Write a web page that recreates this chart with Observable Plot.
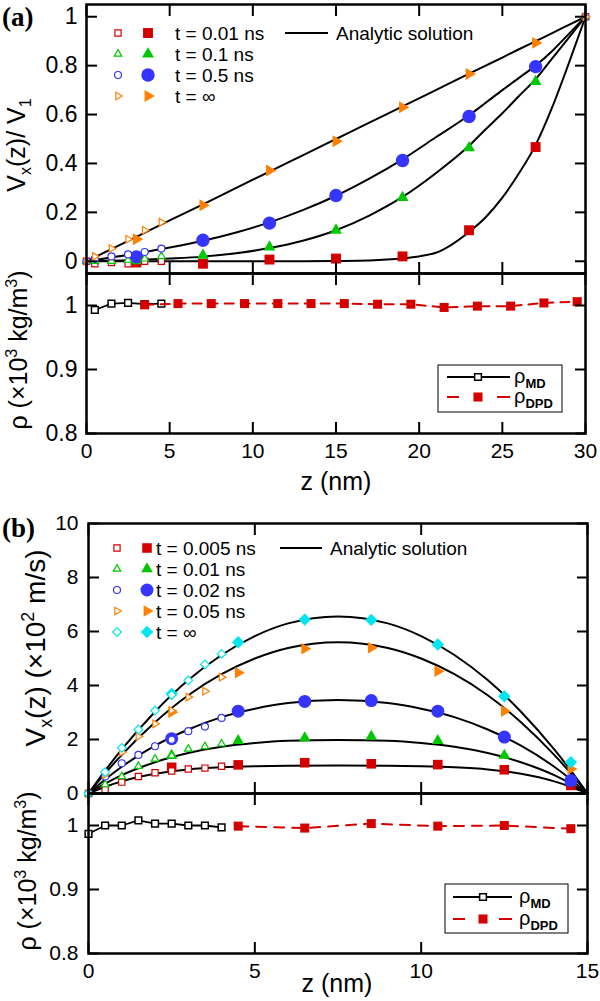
<!DOCTYPE html>
<html><head><meta charset="utf-8">
<script src="https://cdn.jsdelivr.net/npm/d3@7"></script>
<script src="https://cdn.jsdelivr.net/npm/@observablehq/plot@0.6"></script>
<style>
body{margin:0;background:#fff;}
#wrap{position:relative;width:600px;height:1001px;overflow:hidden;font-family:"Liberation Sans",Arial,sans-serif;}
#wrap > svg{position:absolute;left:0;}
</style></head><body><div id="wrap"></div>
<script>
// ===== Panel (a): velocity =====
const legendA = ["t = 0.01 ns", "t = 0.1 ns", "t = 0.5 ns", "t = \u221E"];
const zA_MD = [0, 0.5, 1.5, 2.5, 3.5, 4.5, 30];
const vA_MD_t001 = [0, -0.01, -0.005, -0.01, 0.0, 0.0, 1];
const vA_MD_t01  = [0, 0.0, 0.0, 0.005, 0.01, 0.02, 1];
const vA_MD_t05  = [0, 0.01, 0.02, 0.028, 0.038, 0.052, 1];
const vA_MD_tinf = [0, 0.02, 0.052, 0.09, 0.127, 0.16, 1];

const zA_DPD = [3, 7, 11, 15, 19, 23, 27];
const vA_DPD_t001 = [-0.005, -0.01, 0.007, 0.011, 0.02, 0.127, 0.467];
const vA_DPD_t01  = [0.002, 0.024, 0.058, 0.127, 0.26, 0.464, 0.735];
const vA_DPD_t05  = [0.018, 0.086, 0.156, 0.269, 0.412, 0.592, 0.796];
const vA_DPD_tinf = [0.09, 0.229, 0.371, 0.491, 0.63, 0.766, 0.893];

const zA_fit = [0, 3, 5, 7, 9, 11, 13, 15, 17, 19, 21, 23, 24, 25, 26, 27, 28, 29, 30];
const vA_fit_t001 = [0, 0, 0, 0, 0, 0, 0, 0.001, 0.003, 0.012, 0.035, 0.12, 0.18, 0.26, 0.36, 0.475, 0.63, 0.81, 1];
const vA_fit_t01  = [0, 0.005, 0.011, 0.019, 0.033, 0.054, 0.084, 0.127, 0.187, 0.263, 0.36, 0.472, 0.54, 0.605, 0.676, 0.745, 0.83, 0.915, 1];
const vA_fit_t05  = [0, 0.032, 0.056, 0.084, 0.118, 0.159, 0.209, 0.268, 0.338, 0.417, 0.507, 0.597, 0.648, 0.70, 0.75, 0.80, 0.86, 0.93, 1];
const vA_fit_tinf = [0, 0.1, 0.167, 0.233, 0.3, 0.367, 0.433, 0.5, 0.567, 0.633, 0.7, 0.767, 0.8, 0.833, 0.867, 0.9, 0.933, 0.967, 1];

// ===== Panel (a): density =====
const zA_rhoMD = [0.5, 1.5, 2.5, 3.5, 4.5];
const rhoA_MD = [0.993, 1.003, 1.004, 1.002, 1.003];
const zA_rhoDPD = [3.5, 5.5, 7.5, 9.5, 11.5, 13.5, 15.5, 17.5, 19.5, 21.5, 23.5, 25.5, 27.5, 29.5];
const rhoA_DPD = [1.001, 1.003, 1.003, 1.003, 1.003, 1.003, 1.003, 1.002, 1.002, 0.997, 0.999, 0.999, 1.004, 1.006];

// ===== Panel (b): velocity (x10^2 m/s) =====
const legendB = ["t = 0.005 ns", "t = 0.01 ns", "t = 0.02 ns", "t = 0.05 ns", "t = \u221E"];
const zB_MD = [0, 0.5, 1, 1.5, 2, 2.5, 3, 3.5, 4];
const vB_MD_t0005 = [0, 0.14, 0.42, 0.63, 0.77, 0.83, 0.91, 0.94, 1.01];
const vB_MD_t001  = [0, 0.33, 0.63, 1.01, 1.28, 1.4, 1.65, 1.74, 1.84];
const vB_MD_t002  = [0, 0.63, 1.12, 1.43, 1.75, 1.99, 2.31, 2.48, 2.8];
const vB_MD_t005  = [0, 0.7, 1.53, 2.11, 2.58, 3.07, 3.57, 3.79, 4.31];
const vB_MD_tinf  = [0, 0.79, 1.69, 2.37, 3.07, 3.65, 4.19, 4.78, 5.17];

const zB_DPD = [2.5, 4.5, 6.5, 8.5, 10.5, 12.5, 14.5];
const vB_DPD_t0005 = [0.97, 1.06, 1.14, 1.1, 1.07, 0.88, 0.3];
const vB_DPD_t001  = [1.41, 1.96, 2.06, 2.11, 1.96, 1.41, 0.45];
const vB_DPD_t002  = [2.03, 3.05, 3.41, 3.44, 3.05, 2.09, 0.48];
const vB_DPD_t005  = [3.01, 4.47, 5.36, 5.4, 4.53, 3.05, 0.91];
const vB_DPD_tinf  = [3.69, 5.6, 6.44, 6.43, 5.52, 3.6, 1.16];

const zB_fit = [0, 0.5, 1, 2, 3, 4, 5, 6, 7.5, 9, 10, 11, 12, 13, 14, 14.5, 15];
const vB_fit_t0005 = [0, 0.25, 0.45, 0.73, 0.89, 0.97, 1.01, 1.03, 1.04, 1.03, 1.01, 0.97, 0.89, 0.73, 0.45, 0.25, 0];
const vB_fit_t001  = [0, 0.365, 0.68, 1.16, 1.5, 1.73, 1.87, 1.95, 1.98, 1.95, 1.87, 1.73, 1.5, 1.16, 0.68, 0.365, 0];
const vB_fit_t002  = [0, 0.52, 0.99, 1.77, 2.37, 2.83, 3.14, 3.35, 3.46, 3.35, 3.14, 2.83, 2.37, 1.77, 0.99, 0.52, 0];
const vB_fit_t005  = [0, 0.745, 1.43, 2.64, 3.64, 4.42, 5.0, 5.39, 5.6, 5.39, 5.0, 4.42, 3.64, 2.64, 1.43, 0.745, 0];
const vB_fit_tinf  = [0, 0.846, 1.633, 3.03, 4.2, 5.13, 5.83, 6.3, 6.56, 6.3, 5.83, 5.13, 4.2, 3.03, 1.633, 0.846, 0];

// ===== Panel (b): density =====
const zB_rhoMD = [0, 0.5, 1, 1.5, 2, 2.5, 3, 3.5, 4];
const rhoB_MD = [0.987, 1.0, 1.0, 1.008, 1.003, 1.003, 1.0, 1.0, 0.997];
const zB_rhoDPD = [4.5, 6.5, 8.5, 10.5, 12.5, 14.5];
const rhoB_DPD = [0.999, 0.996, 1.003, 0.999, 1.0, 0.995];

const xTicksA = [0, 5, 10, 15, 20, 25, 30];
const xTicksB = [0, 5, 10, 15];
const yTicksA1 = [0, 0.2, 0.4, 0.6, 0.8, 1];
const yTicksRho = [0.8, 0.9, 1];
const yTicksB1 = [0, 2, 4, 6, 8, 10];

// ===== styling =====
const RED = "#d40000", GREEN = "#00c800", BLUE = "#3535ff", ORANGE = "#ff8000", CYAN = "#00e5ee";
const FONT = "'Liberation Sans', Arial, Helvetica, sans-serif";
const stA = [
  {color: RED, symbol: "square", rot: 0, rF: 5.6, rO: 3.5},
  {color: GREEN, symbol: "triangle", rot: 0, rF: 4.4, rO: 2.8},
  {color: BLUE, symbol: "circle", rot: 0, rF: 6.7, rO: 3.5},
  {color: ORANGE, symbol: "triangle", rot: 90, rF: 4.4, rO: 2.8}
];
const stB = [
  {color: RED, symbol: "square", rot: 0, rF: 5.4, rO: 3.5},
  {color: GREEN, symbol: "triangle", rot: 0, rF: 4.3, rO: 2.8},
  {color: BLUE, symbol: "circle", rot: 0, rF: 6.5, rO: 3.5},
  {color: ORANGE, symbol: "triangle", rot: 90, rF: 4.3, rO: 2.8},
  {color: CYAN, symbol: "diamond2", rot: 0, rF: 5.6, rO: 3.9}
];

const rows = (zs, vs) => zs.map((z, i) => ({z, v: vs[i]}));
const none = () => "";

function boxAxes({xTicks, yTicks, xLab, yLab, fsX, fsY, yPad = 20}) {
  return [
    Plot.axisY({anchor: "left", ticks: yTicks, tickSize: -11, tickPadding: yLab ? yPad : 0, tickFormat: yLab ? (d => String(d)) : none, fontSize: fsY, label: null, strokeWidth: 2}),
    Plot.axisY({anchor: "right", ticks: yTicks, tickSize: -11, tickFormat: none, label: null, strokeWidth: 2}),
    Plot.axisX({anchor: "top", ticks: xTicks, tickSize: -11, tickFormat: none, label: null, strokeWidth: 2}),
    Plot.axisX({anchor: "bottom", ticks: xTicks, tickSize: -11, tickPadding: xLab ? 21 : 0, tickFormat: xLab ? (d => String(d)) : none, fontSize: fsX, label: null, strokeWidth: 2}),
    Plot.frame({stroke: "black", strokeWidth: 2.5})
  ];
}

function velMarks(zFit, fits, zD, dpd, zM, md, st) {
  const marks = [];
  fits.forEach(v => marks.push(Plot.line(rows(zFit, v), {x: "z", y: "v", stroke: "black", strokeWidth: 2, curve: "monotone-x"})));
  dpd.forEach((v, i) => marks.push(Plot.dot(rows(zD, v), {x: "z", y: "v", symbol: st[i].symbol, r: st[i].rF, fill: st[i].color, stroke: "none", rotate: st[i].rot})));
  md.forEach((v, i) => marks.push(Plot.dot(rows(zM, v), {x: "z", y: "v", symbol: st[i].symbol, r: st[i].rO, fill: "white", stroke: st[i].color, strokeWidth: 1.2, rotate: st[i].rot})));
  return marks;
}

function rhoMarks(zM, rM, zD, rD, dash) {
  return [
    Plot.line(rows(zM, rM), {x: "z", y: "v", stroke: "black", strokeWidth: 1.8}),
    Plot.dot(rows(zM, rM), {x: "z", y: "v", symbol: "square", r: 3.8, fill: "white", stroke: "black", strokeWidth: 1.5}),
    Plot.line(rows(zD, rD), {x: "z", y: "v", stroke: RED, strokeWidth: 2, strokeDasharray: dash}),
    Plot.dot(rows(zD, rD), {x: "z", y: "v", symbol: "square", r: 5.1, fill: RED})
  ];
}

const wrap = document.getElementById("wrap");
function place(svg, top) { svg.style.top = top + "px"; svg.style.left = "0px"; svg.style.position = "absolute"; wrap.appendChild(svg); }
const baseStyle = {background: "transparent", fontFamily: FONT, color: "black", overflow: "visible"};

// (a) top
place(Plot.plot({
  width: 600, height: 280, marginTop: 4, marginBottom: 7, marginLeft: 86, marginRight: 15,
  x: {domain: [0, 30]}, y: {domain: [-0.05, 1.05]}, style: baseStyle,
  marks: [
    ...velMarks(zA_fit, [vA_fit_t001, vA_fit_t01, vA_fit_t05, vA_fit_tinf], zA_DPD,
      [vA_DPD_t001, vA_DPD_t01, vA_DPD_t05, vA_DPD_tinf], zA_MD,
      [vA_MD_t001, vA_MD_t01, vA_MD_t05, vA_MD_tinf], stA),
    ...boxAxes({xTicks: xTicksA, yTicks: yTicksA1, xLab: false, yLab: true, fsY: 23, yPad: 20})
  ]
}), 0);

// (a) bottom
place(Plot.plot({
  width: 600, height: 240, marginTop: 10, marginBottom: 70, marginLeft: 86, marginRight: 15,
  x: {domain: [0, 30]}, y: {domain: [0.8, 1.05]}, style: baseStyle,
  marks: [
    ...rhoMarks(zA_rhoMD, rhoA_MD, zA_rhoDPD, rhoA_DPD, "9,7"),
    ...boxAxes({xTicks: xTicksA, yTicks: yTicksRho, xLab: true, yLab: true, fsX: 21, fsY: 23, yPad: 20})
  ]
}), 263);

// (b) top
place(Plot.plot({
  width: 600, height: 290, marginTop: 10, marginBottom: 10, marginLeft: 88, marginRight: 13,
  x: {domain: [0, 15]}, y: {domain: [0, 10]}, style: baseStyle,
  marks: [
    ...velMarks(zB_fit, [vB_fit_t0005, vB_fit_t001, vB_fit_t002, vB_fit_t005, vB_fit_tinf], zB_DPD,
      [vB_DPD_t0005, vB_DPD_t001, vB_DPD_t002, vB_DPD_t005, vB_DPD_tinf], zB_MD,
      [vB_MD_t0005, vB_MD_t001, vB_MD_t002, vB_MD_t005, vB_MD_tinf], stB),
    ...boxAxes({xTicks: xTicksB, yTicks: yTicksB1, xLab: false, yLab: true, fsY: 21, yPad: 21})
  ]
}), 513);

// (b) bottom
place(Plot.plot({
  width: 600, height: 218, marginTop: 10, marginBottom: 48, marginLeft: 88, marginRight: 13,
  x: {domain: [0, 15]}, y: {domain: [0.8, 1.05]}, style: baseStyle,
  marks: [
    ...rhoMarks(zB_rhoMD, rhoB_MD, zB_rhoDPD, rhoB_DPD, "10,8"),
    ...boxAxes({xTicks: xTicksB, yTicks: yTicksRho, xLab: true, yLab: true, fsX: 21, fsY: 21, yPad: 21})
  ]
}), 783);

// ===== overlay: titles, panel labels, legends =====
const ov = d3.create("svg").attr("width", 600).attr("height", 1001)
  .style("position", "absolute").style("top", "0px").style("left", "0px")
  .style("font-family", FONT).style("pointer-events", "none");
wrap.appendChild(ov.node());

const symMap = {square: d3.symbolSquare, triangle: d3.symbolTriangle, circle: d3.symbolCircle, diamond2: d3.symbolDiamond2};
function sym(x, y, s, r, open, color) {
  ov.append("path").attr("d", d3.symbol().type(symMap[s.symbol]).size(Math.PI * r * r)())
    .attr("transform", `translate(${x},${y}) rotate(${s.rot})`)
    .attr("fill", open ? "white" : color).attr("stroke", open ? color : "none").attr("stroke-width", 1.2);
}
function txt(x, y, str, size, extra = {}) {
  const t = ov.append("text").attr("x", x).attr("y", y).attr("font-size", size).text(str);
  Object.entries(extra).forEach(([k, v]) => t.attr(k, v));
  return t;
}

// panel labels
txt(2, 26, "(a)", 27, {"font-family": "'Liberation Serif', 'Times New Roman', serif", "font-weight": "bold"});
txt(2, 537, "(b)", 27, {"font-family": "'Liberation Serif', 'Times New Roman', serif", "font-weight": "bold"});

// x titles
txt(336, 490, "z (nm)", 25, {"text-anchor": "middle"});
txt(337, 992, "z (nm)", 25, {"text-anchor": "middle"});

// y titles
function ytitle(x, y, size, parts) {
  const t = ov.append("text").attr("transform", `translate(${x},${y}) rotate(-90)`).attr("text-anchor", "middle").attr("font-size", size);
  parts.forEach(([s, kind]) => {
    const sp = t.append("tspan").text(s);
    if (kind === "sub") sp.attr("font-size", size * 0.64).attr("dy", size * 0.25);
    if (kind === "sup") sp.attr("font-size", size * 0.64).attr("dy", -size * 0.4);
    if (kind === "afterSub") sp.attr("dy", -size * 0.25);
    if (kind === "afterSup") sp.attr("dy", size * 0.4);
  });
}
ytitle(25, 145, 25, [["V"], ["x", "sub"], ["(z)/ V", "afterSub"], ["1", "sub"]]);
ytitle(27, 350, 25, [["\u03C1 (\u00D710"], ["3", "sup"], [" kg/m", "afterSup"], ["3", "sup"], [")", "afterSup"]]);
ytitle(45, 648, 28, [["V"], ["x", "sub"], ["(z) (\u00D710", "afterSub"], ["2", "sup"], [" m/s)", "afterSup"]]);
ytitle(36, 871, 25, [["\u03C1 (\u00D710"], ["3", "sup"], [" kg/m", "afterSup"], ["3", "sup"], [")", "afterSup"]]);

// velocity legends
const rowsA = [33, 54, 75, 96];
legendA.forEach((lab, i) => {
  sym(118, rowsA[i], stA[i], stA[i].rO, true, stA[i].color);
  sym(148, rowsA[i], stA[i], stA[i].rF, false, stA[i].color);
  txt(175, rowsA[i] + 7, lab, 19);
});
ov.append("line").attr("x1", 285).attr("x2", 328).attr("y1", 33).attr("y2", 33).attr("stroke", "black").attr("stroke-width", 2);
txt(336, 40, "Analytic solution", 19);

const rowsB = [548, 569, 590, 611, 632];
legendB.forEach((lab, i) => {
  sym(117, rowsB[i], stB[i], stB[i].rO, true, stB[i].color);
  sym(147, rowsB[i], stB[i], stB[i].rF, false, stB[i].color);
  txt(156, rowsB[i] + 7, lab, 19);
});
ov.append("line").attr("x1", 280).attr("x2", 322).attr("y1", 548).attr("y2", 548).attr("stroke", "black").attr("stroke-width", 2);
txt(330, 555, "Analytic solution", 19);

// density legends
function rhoLegend(bx, by, bw, bh, lx1, lx2, sx, tx, y1, y2) {
  ov.append("rect").attr("x", bx).attr("y", by).attr("width", bw).attr("height", bh).attr("fill", "white").attr("stroke", "black").attr("stroke-width", 1);
  ov.append("line").attr("x1", lx1).attr("x2", lx2).attr("y1", y1).attr("y2", y1).attr("stroke", "black").attr("stroke-width", 2);
  ov.append("path").attr("d", d3.symbol().type(d3.symbolSquare).size(Math.PI * 3.8 * 3.8)()).attr("transform", `translate(${sx},${y1})`).attr("fill", "white").attr("stroke", "black").attr("stroke-width", 1.5);
  ov.append("line").attr("x1", lx1).attr("x2", lx1 + 12).attr("y1", y2).attr("y2", y2).attr("stroke", RED).attr("stroke-width", 2);
  ov.append("line").attr("x1", lx2 - 13).attr("x2", lx2).attr("y1", y2).attr("y2", y2).attr("stroke", RED).attr("stroke-width", 2);
  ov.append("path").attr("d", d3.symbol().type(d3.symbolSquare).size(Math.PI * 5.1 * 5.1)()).attr("transform", `translate(${sx},${y2})`).attr("fill", RED);
  [["MD", y1], ["DPD", y2]].forEach(([sub, y]) => {
    const t = ov.append("text").attr("x", tx).attr("y", y + 6).attr("font-size", 20);
    t.append("tspan").text("\u03C1");
    t.append("tspan").attr("font-size", 13).attr("font-weight", "bold").attr("dy", 5).text(sub);
  });
}
rhoLegend(438, 365, 124, 47, 447, 510, 478, 514, 377, 397);
rhoLegend(445, 884, 123, 49, 453, 512, 483, 519, 897, 919);
</script>
</body></html>
